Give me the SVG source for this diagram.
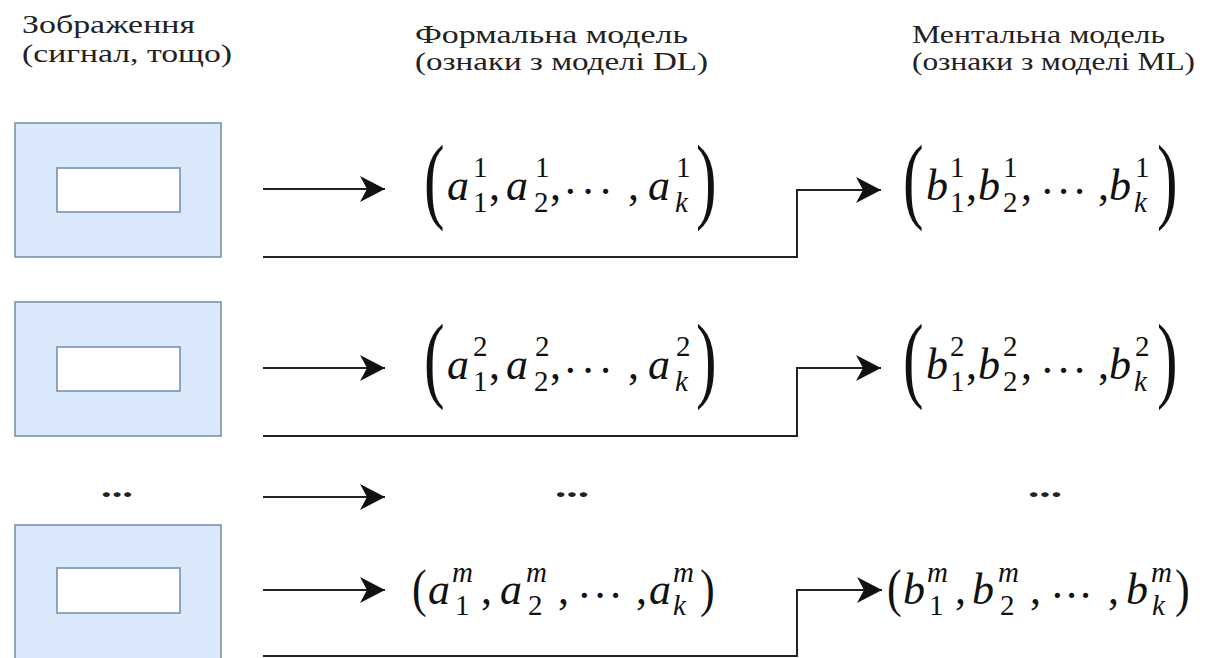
<svg xmlns="http://www.w3.org/2000/svg" width="1211" height="658" viewBox="0 0 1211 658">
<defs>
<style>
text{font-family:'Liberation Serif','DejaVu Serif','Times New Roman',serif;}
.hdr{font-size:25px;fill:#222;}
.box{fill:#dae8fc;stroke:#7b8fb0;stroke-width:1.6;}
.inner{fill:#ffffff;stroke:#7b8fb0;stroke-width:1.6;}
.ln{fill:none;stroke:#222;stroke-width:2;}
.mi{font-style:italic;font-size:44px;fill:#111;}
.mn{font-size:44px;fill:#111;}
.si{font-style:italic;font-size:29px;fill:#111;}
.sn{font-size:29px;fill:#111;}
.big{font-size:95px;fill:#111;}
.par{font-size:52px;fill:#111;}
.dots{font-size:30px;font-weight:bold;fill:#222;}
</style>
<marker id="ah" viewBox="0 0 26 28" refX="25" refY="14" markerWidth="26" markerHeight="28" markerUnits="userSpaceOnUse" orient="auto">
<path d="M25,14 L0,1 L7,14 L0,27 Z" fill="#111"/>
</marker>
</defs>
<rect width="1211" height="658" fill="#ffffff"/>

<g id="headers">
<text class="hdr" x="22" y="33" textLength="173" lengthAdjust="spacingAndGlyphs">Зображення</text>
<text class="hdr" x="22" y="62" textLength="210" lengthAdjust="spacingAndGlyphs">(сигнал, тощо)</text>
<text class="hdr" x="415" y="43" textLength="273" lengthAdjust="spacingAndGlyphs">Формальна модель</text>
<text class="hdr" x="415" y="70" textLength="293" lengthAdjust="spacingAndGlyphs">(ознаки з моделі DL)</text>
<text class="hdr" x="912" y="43" textLength="253" lengthAdjust="spacingAndGlyphs">Ментальна модель</text>
<text class="hdr" x="912" y="70" textLength="283" lengthAdjust="spacingAndGlyphs">(ознаки з моделі ML)</text>
</g>

<g id="image1">
<rect class="box" x="15" y="123" width="206" height="134"/>
<rect class="inner" x="57" y="168" width="123" height="44"/>
</g>
<g id="image2">
<rect class="box" x="15" y="302" width="206" height="134"/>
<rect class="inner" x="57" y="347" width="123" height="44"/>
</g>
<g id="image-m">
<rect class="box" x="15" y="525" width="206" height="140"/>
<rect class="inner" x="57" y="568" width="123" height="45"/>
</g>

<g id="dots-row">
<text class="dots" x="101" y="497" textLength="32" lengthAdjust="spacingAndGlyphs">...</text>
<text class="dots" x="555" y="497" textLength="34" lengthAdjust="spacingAndGlyphs">...</text>
<text class="dots" x="1028" y="497" textLength="34" lengthAdjust="spacingAndGlyphs">...</text>
</g>

<g id="formal1">
<text class="big" transform="translate(424,211) scale(0.65,1)">(</text>
<text class="mi" x="447" y="200">a</text><text class="sn" x="473" y="177">1</text><text class="sn" x="473" y="212">1</text>
<text class="mn" x="489" y="200">,</text>
<text class="mi" x="506" y="200">a</text><text class="sn" x="535" y="177">1</text><text class="sn" x="534" y="212">2</text>
<text class="mn" x="550" y="200">,</text>
<text class="mn" x="563" y="206" textLength="50" lengthAdjust="spacing">···</text>
<text class="mn" x="628" y="200">,</text>
<text class="mi" x="648" y="200">a</text><text class="sn" x="676" y="177">1</text><text class="si" x="675" y="212">k</text>
<text class="big" transform="translate(696,211) scale(0.65,1)">)</text>
</g>

<g id="mental1">
<text class="big" transform="translate(903,211) scale(0.65,1)">(</text>
<text class="mi" x="926" y="200">b</text><text class="sn" x="950" y="177">1</text><text class="sn" x="950" y="212">1</text>
<text class="mn" x="966" y="200">,</text>
<text class="mi" x="978" y="200">b</text><text class="sn" x="1003" y="177">1</text><text class="sn" x="1003" y="212">2</text>
<text class="mn" x="1021" y="200">,</text>
<text class="mn" x="1040" y="206" textLength="47" lengthAdjust="spacing">···</text>
<text class="mn" x="1098" y="200">,</text>
<text class="mi" x="1109" y="200">b</text><text class="sn" x="1135" y="177">1</text><text class="si" x="1134" y="212">k</text>
<text class="big" transform="translate(1157,211) scale(0.65,1)">)</text>
</g>

<g id="formal2" transform="translate(0,179)">
<text class="big" transform="translate(424,211) scale(0.65,1)">(</text>
<text class="mi" x="447" y="200">a</text><text class="sn" x="473" y="177">2</text><text class="sn" x="473" y="212">1</text>
<text class="mn" x="489" y="200">,</text>
<text class="mi" x="506" y="200">a</text><text class="sn" x="535" y="177">2</text><text class="sn" x="534" y="212">2</text>
<text class="mn" x="550" y="200">,</text>
<text class="mn" x="563" y="206" textLength="50" lengthAdjust="spacing">···</text>
<text class="mn" x="628" y="200">,</text>
<text class="mi" x="648" y="200">a</text><text class="sn" x="676" y="177">2</text><text class="si" x="675" y="212">k</text>
<text class="big" transform="translate(696,211) scale(0.65,1)">)</text>
</g>

<g id="mental2" transform="translate(0,179)">
<text class="big" transform="translate(903,211) scale(0.65,1)">(</text>
<text class="mi" x="926" y="200">b</text><text class="sn" x="950" y="177">2</text><text class="sn" x="950" y="212">1</text>
<text class="mn" x="966" y="200">,</text>
<text class="mi" x="978" y="200">b</text><text class="sn" x="1003" y="177">2</text><text class="sn" x="1003" y="212">2</text>
<text class="mn" x="1021" y="200">,</text>
<text class="mn" x="1040" y="206" textLength="47" lengthAdjust="spacing">···</text>
<text class="mn" x="1098" y="200">,</text>
<text class="mi" x="1109" y="200">b</text><text class="sn" x="1135" y="177">2</text><text class="si" x="1134" y="212">k</text>
<text class="big" transform="translate(1157,211) scale(0.65,1)">)</text>
</g>

<g id="formal-m">
<text class="par" transform="translate(412,606) scale(0.85,1)">(</text>
<text class="mi" x="428" y="604">a</text><text class="si" x="452" y="582">m</text><text class="sn" x="455" y="615">1</text>
<text class="mn" x="481" y="604">,</text>
<text class="mi" x="500" y="604">a</text><text class="si" x="526" y="582">m</text><text class="sn" x="528" y="615">2</text>
<text class="mn" x="558" y="604">,</text>
<text class="mn" x="577" y="610" textLength="46" lengthAdjust="spacing">···</text>
<text class="mn" x="636" y="604">,</text>
<text class="mi" x="649" y="604">a</text><text class="si" x="673" y="582">m</text><text class="si" x="673" y="615">k</text>
<text class="par" transform="translate(700,606) scale(0.85,1)">)</text>
</g>

<g id="mental-m">
<text class="par" transform="translate(887,606) scale(0.85,1)">(</text>
<text class="mi" x="903" y="604">b</text><text class="si" x="927" y="582">m</text><text class="sn" x="929" y="615">1</text>
<text class="mn" x="955" y="604">,</text>
<text class="mi" x="972" y="604">b</text><text class="si" x="998" y="582">m</text><text class="sn" x="1000" y="615">2</text>
<text class="mn" x="1030" y="604">,</text>
<text class="mn" x="1050" y="610" textLength="43" lengthAdjust="spacing">···</text>
<text class="mn" x="1108" y="604">,</text>
<text class="mi" x="1126" y="604">b</text><text class="si" x="1151" y="582">m</text><text class="si" x="1152" y="615">k</text>
<text class="par" transform="translate(1175,606) scale(0.85,1)">)</text>
</g>

<g id="connectors">
<path class="ln" d="M263,189 H385" marker-end="url(#ah)"/>
<path class="ln" d="M263,257 H797 V190 H881" marker-end="url(#ah)"/>
<path class="ln" d="M263,368 H385" marker-end="url(#ah)"/>
<path class="ln" d="M263,436 H797 V368 H881" marker-end="url(#ah)"/>
<path class="ln" d="M263,497 H385" marker-end="url(#ah)"/>
<path class="ln" d="M263,590 H385" marker-end="url(#ah)"/>
<path class="ln" d="M263,656 H797 V590 H882" marker-end="url(#ah)"/>
</g>
</svg>
